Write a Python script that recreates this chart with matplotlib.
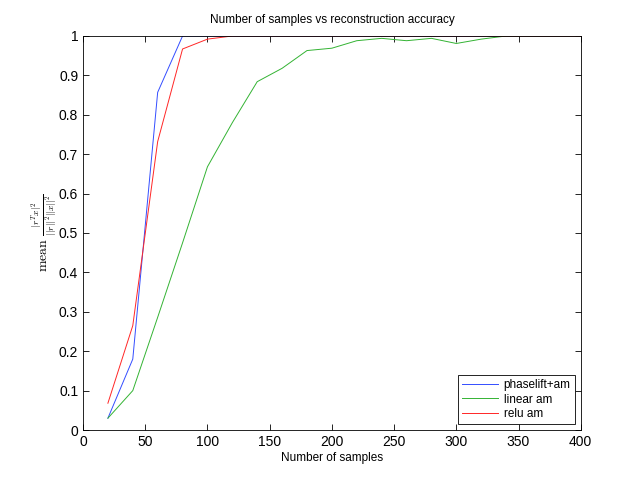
import numpy as np
import matplotlib
matplotlib.use("Agg")
import matplotlib.pyplot as plt

plt.rcParams['font.family'] = ['Liberation Sans', 'DejaVu Sans']
plt.rcParams['mathtext.fontset'] = 'cm'

# number of samples
n_samples = [20, 40, 60, 80, 100, 120, 140, 160, 180, 200,
             220, 240, 260, 280, 300, 320, 340, 360, 380, 400]

acc_phaselift = [0.03, 0.18, 0.857, 1.0, 1.0, 1.0, 1.0, 1.0, 1.0, 1.0,
                 1.0, 1.0, 1.0, 1.0, 1.0, 1.0, 1.0, 1.0, 1.0, 1.0]
acc_linear = [0.03, 0.10, 0.286, 0.475, 0.668, 0.78, 0.884, 0.918, 0.963, 0.969,
              0.988, 0.994, 0.988, 0.994, 0.981, 0.992, 1.0, 1.0, 1.0, 1.0]
acc_relu = [0.068, 0.265, 0.732, 0.967, 0.992, 1.0, 1.0, 1.0, 1.0, 1.0,
            1.0, 1.0, 1.0, 1.0, 1.0, 1.0, 1.0, 1.0, 1.0, 1.0]

fig = plt.figure(figsize=(6.41, 4.83), dpi=100)
ax = fig.add_axes([0.1295, 0.1097, 0.7765, 0.8158])

ax.plot(n_samples, acc_phaselift, color=(0.2, 0.3, 1), lw=0.7, label='phaselift+am')
ax.plot(n_samples, acc_linear, color=(0.2, 0.7, 0.2), lw=0.7, label='linear am')
ax.plot(n_samples, acc_relu, color=(1, 0.15, 0.15), lw=0.7, label='relu am')

ax.set_xlim(0, 400)
ax.set_ylim(0, 1)
ax.set_xticks(np.arange(0, 401, 50))
ax.set_yticks(np.arange(0, 1.01, 0.1))
ax.set_yticklabels(['0', '0.1', '0.2', '0.3', '0.4', '0.5', '0.6', '0.7', '0.8', '0.9', '1'])
ax.tick_params(direction='in', top=True, right=True, labelsize=10, length=4, width=0.6)
for s in ax.spines.values():
    s.set_linewidth(0.6)

ax.set_xlabel("Number of samples", fontsize=8.5, labelpad=2)
ax.set_ylabel(r'$\mathrm{mean}\ \frac{|r^Tx|^2}{||r||^2||x||^2}$', fontsize=10, labelpad=0)
ax.set_title("Number of samples vs reconstruction accuracy", fontsize=8.5, pad=9)

leg = ax.legend(loc='lower right', fontsize=8.5, fancybox=False, framealpha=1,
                edgecolor='black', handlelength=3.0, handletextpad=0.5,
                borderaxespad=0.5, labelspacing=0.2, borderpad=0.35)
leg.get_frame().set_linewidth(0.6)

fig.savefig("out.png", dpi=100, facecolor='white')
